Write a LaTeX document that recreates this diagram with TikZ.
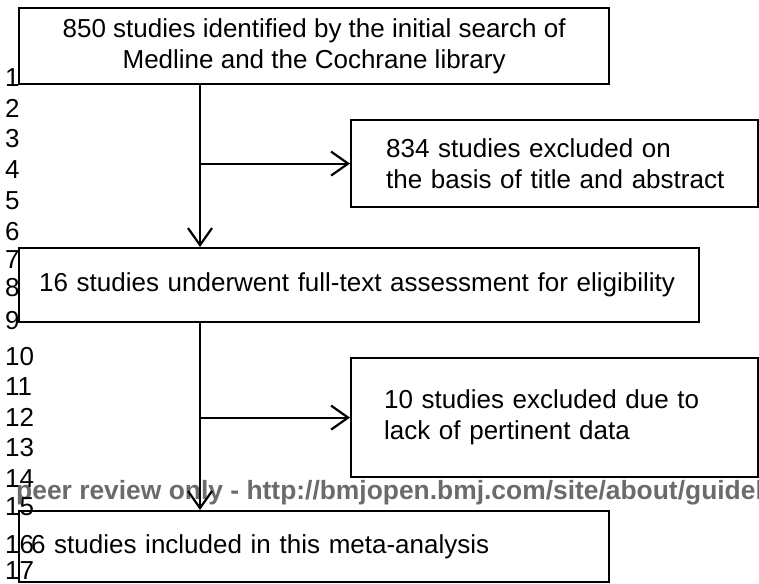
\documentclass[tikz,border=0pt]{standalone}
\usepackage{fontspec}
\setmainfont{Liberation Sans}
\usetikzlibrary{arrows.meta,positioning,calc}
\tikzset{
  flowbox/.style={draw=black, line width=2.2pt, anchor=north west, inner ysep=0pt, font=\fontsize{26}{31}\selectfont},
  leftbox/.style={flowbox, align=left, inner xsep=0pt},
  arr/.style={-{Straight Barb[length=17pt,width=24pt]}, line width=2.2pt},
  lnum/.style={anchor=west, inner sep=0pt, font=\fontsize{26}{28}\selectfont},
  wmark/.style={anchor=west, inner sep=0pt, text=black!58, font=\fontsize{26.4}{30}\selectfont\bfseries},
}
\begin{document}
\begin{tikzpicture}[x=1pt,y=-1pt]
  \useasboundingbox (0,0) rectangle (759,583);
  \clip (0,0) rectangle (759,583);
  % watermark line
  \node[wmark] (wm) at (16,493) {peer review only - http://bmjopen.bmj.com/site/about/guidel};
  % line numbers
  \foreach \n/\y in {1/78,2/108,3/139,4/170,5/201,6/232,7/260,8/288,9/321,
                     10/357,11/387,12/417,13/448,14/479,15/507,16/545,17/571}
    \node[lnum] (ln\n) at (5,\y) {\n};
  % boxes
  \node[flowbox, align=center, minimum width=590pt, minimum height=76pt] (search) at (18,7)
    {850 studies identified by the initial search of\\Medline and the Cochrane library};
  \node[leftbox, minimum width=407pt, minimum height=87pt, text width=337pt] (excl1) at (350,119)
    {\mbox{834 studies excluded on}\\\mbox{the basis of title and abstract}};
  \node[leftbox, minimum width=680pt, minimum height=74pt, text width=640pt] (fulltext) at (18,247)
    {\mbox{16 studies underwent full-text assessment for eligibility}};
  \node[leftbox, minimum width=407pt, minimum height=119pt, text width=341pt] (excl2) at (350,357)
    {10 studies excluded due to\\lack of pertinent data};
  \node[leftbox, minimum width=590pt, minimum height=71pt, text width=566pt] (incl) at (18,510)
    {6 studies included in this meta-analysis};
  % connectors
  \coordinate (trunk) at (200,0);
  \draw[arr] (trunk |- search.south) -- (trunk |- fulltext.north);
  \draw[arr] (trunk |- excl1.west) -- (excl1.west);
  \draw[arr] (trunk |- fulltext.south) -- (trunk |- incl.north);
  \draw[arr] (trunk |- excl2.west) -- (excl2.west);
\end{tikzpicture}
\end{document}
